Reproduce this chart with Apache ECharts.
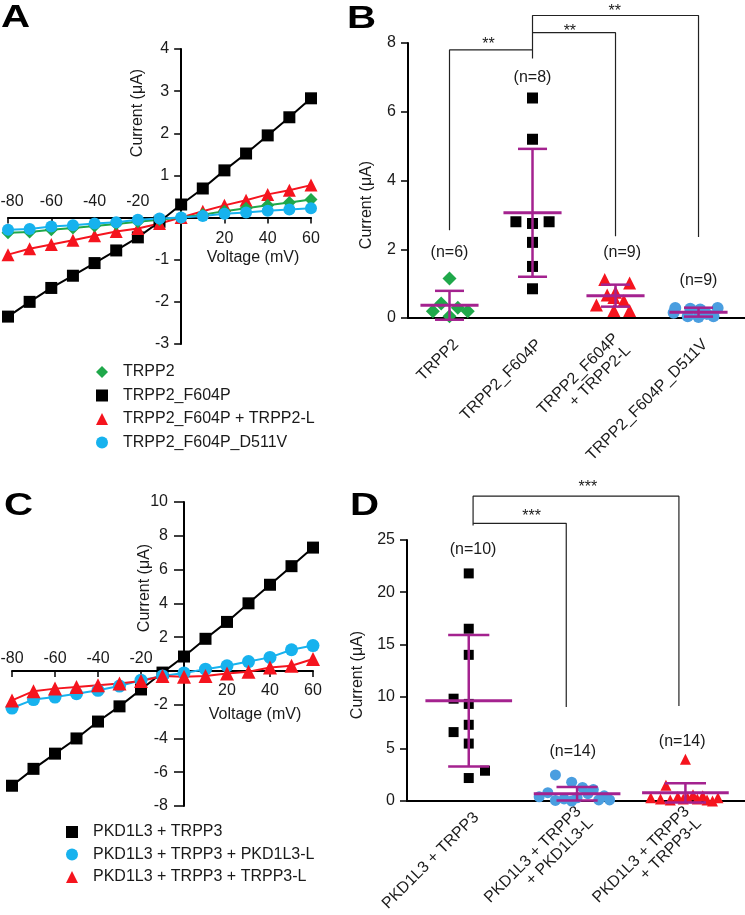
<!DOCTYPE html>
<html><head><meta charset="utf-8">
<script src="https://cdn.jsdelivr.net/npm/echarts@6/dist/echarts.min.js"></script>
<style>html,body{margin:0;padding:0;background:#fff}#c{width:745px;height:915px}</style>
</head><body><div id="c"></div>
<script>
// ---------- Panel A data ----------
const voltages = [-80,-70,-60,-50,-40,-30,-20,-10,0,10,20,30,40,50,60];
const A_names = ['TRPP2','TRPP2_F604P','TRPP2_F604P + TRPP2-L','TRPP2_F604P_D511V'];
const A_TRPP2  = [-0.36,-0.34,-0.29,-0.25,-0.20,-0.15,-0.10,-0.05,0,0.07,0.15,0.22,0.29,0.36,0.43];
const A_F604P  = [-2.35,-2.0,-1.67,-1.38,-1.08,-0.78,-0.47,-0.10,0.31,0.69,1.12,1.52,1.95,2.38,2.83];
const A_TRPP2L = [-0.88,-0.74,-0.64,-0.54,-0.43,-0.33,-0.26,-0.14,0.0,0.15,0.29,0.41,0.55,0.65,0.77];
const A_D511V  = [-0.29,-0.27,-0.21,-0.18,-0.14,-0.11,-0.05,-0.02,0,0.04,0.09,0.12,0.16,0.19,0.22];

// ---------- Panel B data ----------
const B_categories = ['TRPP2','TRPP2_F604P','TRPP2_F604P\n+ TRPP2-L','TRPP2_F604P_D511V'];
const B_TRPP2  = [1.15,0.42,0.2,0.05,0.3,0.2];
const B_TRPP2_jit = [0,-0.1,-0.2,0,0.1,0.22];
const B_F604P  = [6.4,5.2,2.8,2.75,2.8,2.2,1.5,0.85];
const B_F604P_jit = [0,0,-0.2,0,0.2,0,0,0];
const B_TRPP2L = [1.12,1.02,0.75,0.67,0.6,0.38,0.5,0.22,0.22];
const B_TRPP2L_jit = [-0.13,0.17,0.0,-0.1,-0.02,-0.23,0.1,-0.02,0.17];
const B_D511V  = [0.29,0.27,0.25,0.29,0.05,0.03,0.05,0.15,0.12];
const B_D511V_jit = [-0.28,-0.1,0.02,0.23,-0.13,0.0,0.18,-0.3,0.1];
const B_mean = [0.37,3.06,0.65,0.17];
const B_sd   = [0.42,1.86,0.32,0.13];
const B_nText = ['(n=6)','(n=8)','(n=9)','(n=9)'];
const B_nPos  = [[0,1.89],[1,7.0],[2.08,1.89],[3,1.1]];
const B_brackets = [
  [[0,2.55],[0,7.8],[1,7.8]],
  [[1,7.55],[1,8.8],[3,8.8],[3,2.36]],
  [[1,8.3],[2,8.3],[2,2.38]]
];
const B_stars = [[0.47,7.94,'**'],[1.45,8.34,'**'],[1.99,8.9,'**']];

// ---------- Panel C data ----------
const C_names = ['PKD1L3 + TRPP3','PKD1L3 + TRPP3 + PKD1L3-L','PKD1L3 + TRPP3 + TRPP3-L'];
const C_TRPP3  = [-6.8,-5.8,-4.9,-4.0,-3.0,-2.1,-1.1,-0.1,0.85,1.9,2.9,4.0,5.1,6.2,7.3];
const C_PKDL   = [-2.2,-1.7,-1.55,-1.35,-1.15,-0.9,-0.55,-0.3,-0.12,0.1,0.3,0.55,0.8,1.25,1.5];
const C_TRPP3L = [-1.75,-1.2,-1.05,-0.95,-0.85,-0.75,-0.6,-0.3,-0.35,-0.3,-0.15,-0.05,0.2,0.3,0.7];

// ---------- Panel D data ----------
const D_categories = ['PKD1L3 + TRPP3','PKD1L3 + TRPP3\n+ PKD1L3-L','PKD1L3 + TRPP3\n+ TRPP3-L'];
const D_TRPP3 = [21.8,16.5,14.0,9.8,9.3,7.3,6.6,5.5,2.9,2.2];
const D_TRPP3_jit = [0,0,0,-0.14,0,0,-0.14,0,0.15,0];
const D_PKDL = [2.5,1.8,1.1,1.3,0.8,0.7,0.5,0.4,0.3,0.2,0.1,0.05,0.0,0.1];
const D_PKDL_jit = [-0.2,-0.05,0.15,0.05,-0.27,0.1,0.25,-0.35,0.0,-0.12,0.2,-0.2,-0.05,0.3];
const D_TRPP3L = [4.0,1.5,0.3,0.2,0.1,0.4,0.3,0.2,0.5,0.1,0.3,0.2,0.6,0.0];
const D_TRPP3L_jit = [0,-0.18,-0.32,-0.23,-0.14,-0.07,0.02,0.11,0.16,0.2,0.3,-0.02,0.07,0.25];
const D_mean = [9.6,0.7,0.78];
const D_sd   = [6.3,0.65,0.92];
const D_nText = ['(n=10)','(n=14)','(n=14)'];
const D_nPos  = [[0.04,24.1],[0.96,4.7],[1.97,5.65]];
const D_brackets = [
  [[0.04,26.4],[0.04,29.2],[1.94,29.2],[1.94,9.1]],
  [[0.04,26.6],[0.9,26.6],[0.9,9.0]]
];
const D_stars = [[0.58,27.2,'***'],[1.1,30.0,'***']];

// ---------- styling ----------
const FONT = 'Liberation Sans, Arial, Helvetica, sans-serif';
const INK = '#1a1a1a';
const PURPLE = '#a4228f';
const GREEN = '#1fa84a', BLACK = '#000000', RED = '#f5141e', CYAN = '#17b2ee', BLUE = '#4a9ee0';

const chart = echarts.init(document.getElementById('c'), null, {renderer:'canvas'});

const grids = [
  {left:8, top:49, width:303, height:295},
  {left:408, top:43, width:337, height:275},
  {left:12, top:502, width:301, height:304},
  {left:407, top:540, width:338, height:261}
];
const ivRangeA = {xmin:-80, xmax:60, ymin:-3, ymax:4};
const ivRangeC = {xmin:-80, xmax:60, ymin:-8, ymax:10};

const lbl = {color: INK, fontSize: 16, fontFamily: FONT};
// offsets so that the axes cross at zero (with labels following the lines)
function xOffset(g, r) { return -grids[g].height * (0 - r.ymin) / (r.ymax - r.ymin); }
function yOffset(g, r) { return -grids[g].width * (0 - r.xmin) / (r.xmax - r.xmin); }

function ivXAxis(grid, r, neg, margin, padMin) {
  return {
    type:'value', gridIndex:grid, min:r.xmin, max:r.xmax, interval:20, position:'bottom',
    offset: xOffset(grid, r),
    axisLine:{show:!neg, onZero:false, lineStyle:{color:'#000', width:2}},
    axisTick:{show:!neg, length:6, lineStyle:{color:'#000', width:1.5}},
    splitLine:{show:false},
    axisLabel:Object.assign({}, lbl, {inside:neg, margin:margin,
      rich:{p:{color:INK, fontSize:16, fontFamily:FONT, padding:[0,0,0,padMin || 0]}},
      formatter: v => neg ? (v < 0 ? (v === r.xmin ? '{p|' + v + '}' : String(v)) : '')
                          : (v > 0 ? String(v) : '')})
  };
}
function ivYAxis(grid, r, interval, margin, tick) {
  return {
    type:'value', gridIndex:grid, min:r.ymin, max:r.ymax, interval:interval, position:'left',
    offset: yOffset(grid, r),
    axisLine:{show:true, onZero:false, lineStyle:{color:'#000', width:2}},
    axisTick:{show:true, length:tick, lineStyle:{color:'#000', width:1.5}},
    splitLine:{show:false},
    axisLabel:Object.assign({}, lbl, {margin:margin, formatter: v => v === 0 ? '' : String(v)})
  };
}
function catXAxis(grid, min, max, cats, margin, shift) {
  return {
    type:'value', gridIndex:grid, min:min, max:max,
    axisLine:{show:true, onZero:false, lineStyle:{color:'#000', width:2}},
    axisTick:{show:false}, splitLine:{show:false},
    axisLabel:Object.assign({}, lbl, {rotate:45, margin:margin, lineHeight:17,
      customValues: cats.map((c,i)=>i + shift), formatter: v => cats[Math.round(v)] || ''})
  };
}
function scYAxis(grid, max, interval) {
  return {
    type:'value', gridIndex:grid, min:0, max:max, interval:interval,
    axisLine:{show:true, onZero:false, lineStyle:{color:'#000', width:2}},
    axisTick:{show:true, length:7, lineStyle:{color:'#000', width:1.5}},
    splitLine:{show:false},
    axisLabel:Object.assign({}, lbl, {margin:12})
  };
}
function ivLine(name, data, color, symbol, size, xi, yi) {
  return {
    type:'line', name:name, xAxisIndex:xi, yAxisIndex:yi,
    data: voltages.map((v,i)=>[v, data[i]]),
    symbol:symbol, symbolSize:size, showSymbol:true, clip:false,
    itemStyle:{color:color, opacity:1}, lineStyle:{color:color, width:2},
    emphasis:{disabled:true}, animation:false
  };
}
function dots(name, vals, jit, cat, color, symbol, size, xi, yi) {
  return {
    type:'scatter', name:name, xAxisIndex:xi, yAxisIndex:yi,
    data: vals.map((v,k)=>[cat + jit[k], v]),
    symbol:symbol, symbolSize:size, clip:false, itemStyle:{color:color, opacity:1},
    emphasis:{disabled:true}, animation:false, z:3
  };
}
function errSeries(means, sds, xi, yi, halfMean, halfCap) {
  return {
    type:'custom', xAxisIndex:xi, yAxisIndex:yi, z:5, animation:false, clip:false,
    data: means.map((m,i)=>[i, m, sds[i]]),
    encode:{x:0, y:1},
    renderItem: function(params, api) {
      const x = api.value(0), m = api.value(1), s = api.value(2);
      const c = api.coord([x, m]), t = api.coord([x, m + s]), b = api.coord([x, m - s]);
      const unit = api.size([1, 0])[0];
      const hm = halfMean * unit, hc = halfCap * unit;
      const st = {stroke: PURPLE, lineWidth: 2.5, fill: null};
      return {type:'group', children:[
        {type:'line', shape:{x1:t[0], y1:t[1], x2:b[0], y2:b[1]}, style:st},
        {type:'line', shape:{x1:t[0]-hc, y1:t[1], x2:t[0]+hc, y2:t[1]}, style:st},
        {type:'line', shape:{x1:b[0]-hc, y1:b[1], x2:b[0]+hc, y2:b[1]}, style:st},
        {type:'line', shape:{x1:c[0]-hm, y1:c[1], x2:c[0]+hm, y2:c[1]}, style:{stroke:PURPLE, lineWidth:3}}
      ]};
    }
  };
}
function bracketSeries(lines, xi, yi) {
  return lines.map(pts => ({
    type:'line', xAxisIndex:xi, yAxisIndex:yi, data:pts, symbol:'none', clip:false,
    lineStyle:{color:'#222', width:1.2}, emphasis:{disabled:true}, animation:false, silent:true
  }));
}
function textSeries(items, xi, yi) {
  return {
    type:'scatter', xAxisIndex:xi, yAxisIndex:yi, symbolSize:0, clip:false, silent:true, animation:false,
    itemStyle:{opacity:1},
    data: items.map(it => ({value:[it[0], it[1]], label:{formatter: it[2]}})),
    label:{show:true, position:'inside', color:INK, opacity:1, fontSize:16, fontFamily:FONT}
  };
}

const series = [];
// A (xAxis 0/1, yAxis 0)
series.push(ivLine(A_names[1], A_F604P, BLACK, 'rect', 12, 0, 0));
series.push(ivLine(A_names[2], A_TRPP2L, RED, 'triangle', 13, 0, 0));
series.push(ivLine(A_names[0], A_TRPP2, GREEN, 'diamond', 13, 0, 0));
series.push(ivLine(A_names[3], A_D511V, CYAN, 'circle', 12, 0, 0));
// B (xAxis 2, yAxis 1)
series.push(dots('B1', B_TRPP2, B_TRPP2_jit, 0, GREEN, 'diamond', 14, 2, 1));
series.push(dots('B2', B_F604P, B_F604P_jit, 1, BLACK, 'rect', 11, 2, 1));
series.push(dots('B3', B_TRPP2L, B_TRPP2L_jit, 2, RED, 'triangle', 13, 2, 1));
series.push(dots('B4', B_D511V, B_D511V_jit, 3, BLUE, 'circle', 12, 2, 1));
series.push(errSeries(B_mean, B_sd, 2, 1, 0.35, 0.175));
series.push(...bracketSeries(B_brackets, 2, 1));
series.push(textSeries(B_nPos.map((p,i)=>[p[0],p[1],B_nText[i]]), 2, 1));
series.push(textSeries(B_stars, 2, 1));
// C (xAxis 3/4, yAxis 2)
series.push(ivLine(C_names[0], C_TRPP3, BLACK, 'rect', 12, 3, 2));
series.push(ivLine(C_names[1], C_PKDL, CYAN, 'circle', 13, 3, 2));
series.push(ivLine(C_names[2], C_TRPP3L, RED, 'triangle', 14, 3, 2));
// D (xAxis 5, yAxis 3)
series.push(dots('D1', D_TRPP3, D_TRPP3_jit, 0, BLACK, 'rect', 10, 5, 3));
series.push(dots('D2', D_PKDL, D_PKDL_jit, 1, BLUE, 'circle', 11, 5, 3));
series.push(dots('D3', D_TRPP3L, D_TRPP3L_jit, 2, RED, 'triangle', 11, 5, 3));
series.push(errSeries(D_mean, D_sd, 5, 3, 0.4, 0.19));
series.push(...bracketSeries(D_brackets, 5, 3));
series.push(textSeries(D_nPos.map((p,i)=>[p[0],p[1],D_nText[i]]), 5, 3));
series.push(textSeries(D_stars, 5, 3));

function legendCfg(names, icons, left, top, gap) {
  return {
    orient:'vertical', left:left, top:top, padding:0, itemGap:gap, itemWidth:12, itemHeight:12,
    selectedMode:false,
    data: names.map((n,i)=>({name:n, icon:icons[i]})),
    textStyle:{color:INK, fontSize:16, fontFamily:FONT, lineHeight:16, padding:[0,0,0,10]}
  };
}

function title(text, x, y, rot) {
  return {type:'text', x:x, y:y, rotation: rot ? Math.PI/2 : 0, silent:true,
    style:{text:text, fill:INK, font:'16px ' + FONT, textAlign:'center', textVerticalAlign:'middle'}};
}
function panel(letter, x, y) {
  return {type:'text', x:x, y:y, scaleX:1.3, silent:true,
    style:{text:letter, fill:'#000', font:'bold 31px ' + FONT, textAlign:'left', textVerticalAlign:'top'}};
}

chart.setOption({
  animation:false,
  textStyle:{fontFamily:FONT},
  grid: grids.map(g => Object.assign({outerBoundsMode:'none'}, g)),
  xAxis:[
    ivXAxis(0, ivRangeA, false, 13),
    ivXAxis(0, ivRangeA, true, 8, 8),
    catXAxis(1, -0.5, 3.56, B_categories, 24, 0.08),
    ivXAxis(2, ivRangeC, false, 12),
    ivXAxis(2, ivRangeC, true, 4, 0),
    catXAxis(3, -0.57, 2.55, D_categories, 14, 0.07)
  ],
  yAxis:[
    ivYAxis(0, ivRangeA, 1, 12, 7),
    scYAxis(1, 8, 2),
    ivYAxis(2, ivRangeC, 2, 16, 10),
    scYAxis(3, 25, 5)
  ],
  legend:[
    legendCfg(A_names, ['diamond','rect','triangle','circle'], 96, 364, 7.5),
    legendCfg(C_names, ['rect','circle','triangle'], 66, 824, 6.5)
  ],
  graphic:[
    panel('A', 1, 3), panel('B', 347, 4), panel('C', 4, 491), panel('D', 350, 491),
    title('Current (\u03bcA)', 138, 113, true),
    title('Voltage (mV)', 253, 258, false),
    title('Current (\u03bcA)', 367, 205, true),
    title('Current (\u03bcA)', 145, 588, true),
    title('Voltage (mV)', 255, 715, false),
    title('Current (\u03bcA)', 358, 675, true)
  ],
  series: series
});
</script>
</body></html>
